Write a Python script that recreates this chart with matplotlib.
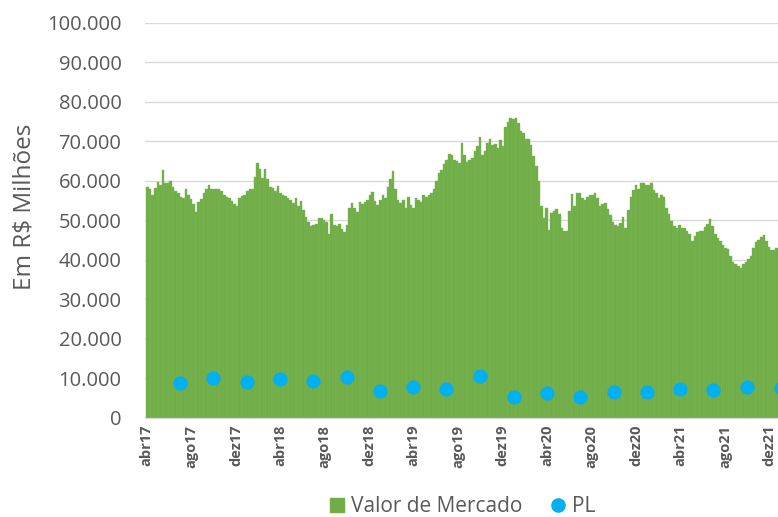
import matplotlib
matplotlib.use("Agg")
import matplotlib.pyplot as plt
from matplotlib.lines import Line2D
from matplotlib.ticker import FuncFormatter
import pandas as pd

# valor de mercado semanal (R$ milhões), a partir de 03/04/2017
valor_mercado = [
    58500, 58000, 56500, 58200, 59600, 59000, 62800, 59500, 59300, 60000,
    58500, 57300, 57000, 56000, 55500, 57800, 56500, 55300, 54000, 52000,
    54500, 55300, 56800, 58000, 59000, 57800, 57800, 58000, 57900, 57300,
    56500, 56000, 55500, 54900, 54000, 53500, 55500, 56200, 56500, 57500,
    58000,
    58000, 61000, 64500, 63000, 60800, 63000, 60500, 58500, 58200, 57500,
    58700, 57000, 56500, 56200, 55600, 55000, 54300, 55700, 53700, 54800,
    52500, 50800, 49500, 48600, 48800, 49000, 50500, 50500, 50000, 49500,
    46500, 51500, 48700, 48600, 49000, 47800, 47000, 48800, 53000, 54300,
    53200,
    52200, 54500, 54000, 54700, 55000, 56500, 57200, 54900, 53800, 55100,
    56500, 55500, 58500, 60500, 62500, 58000, 55000, 54300, 55000, 53000,
    55800, 53800, 53000, 55500, 55000, 54700, 56300, 55800, 56400, 56800,
    58000, 60000, 62000, 62800, 64200, 65300, 66800, 66500, 65300, 65000,
    64500, 69500,
    66500, 64800, 65200, 65800, 67500, 68800, 71000, 66500, 67500, 69500,
    70500, 69000, 69200, 68200, 70200, 68800, 73500, 74800, 76000, 75600,
    75800, 74500, 72500, 72000, 70600, 70500, 69000, 66200, 63800, 60000,
    53500, 50500, 53000, 47500, 51700, 52300, 52800, 51500, 48000, 47200,
    47300,
    52300, 56600, 53500, 57000, 56800, 55700, 55200, 56000, 56500, 56400,
    56900, 55500, 53500, 54000, 54300, 52800, 51200, 49500, 48800, 48500,
    49200, 50800, 48000, 52500, 55800, 57700, 58800, 57800, 59300, 59500,
    58900, 58900, 59300, 57600, 57000, 55600, 56400, 55900, 53200, 51500,
    49800,
    48500, 47900, 48900, 48000, 47900, 47300, 46400, 44700, 46000, 47100,
    47200, 47300, 48300, 49100, 50400, 48500, 46400, 45500, 44800, 43800,
    42900, 42700, 40900, 39500, 39000, 38400, 37800, 38800, 39500, 40100,
    41000, 43000, 44400, 45000, 45800, 46200, 44700, 43300, 42500, 42500,
    42900,
]
datas_mercado = pd.date_range("2017-04-03", periods=len(valor_mercado), freq="7D")

# patrimônio líquido trimestral (R$ milhões)
datas_pl = pd.date_range("2017-06-30", "2021-12-31", freq="QE")
pl = [8700, 10000, 9000, 9800, 9300, 10200, 6800, 7700, 7200, 10600,
      5300, 6200, 5300, 6400, 6400, 7200, 6900, 7800, 7400]

tick_datas = pd.date_range("2017-04-01", "2021-12-01", freq="4MS")
tick_rotulos = ["abr17", "ago17", "dez17", "abr18", "ago18", "dez18", "abr19",
                "ago19", "dez19", "abr20", "ago20", "dez20", "abr21", "ago21", "dez21"]

verde = "#70AD47"
azul = "#00B0F0"
cinza = "#595959"

plt.rcParams["font.family"] = ["Open Sans", "DejaVu Sans"]

fig = plt.figure(figsize=(7.78, 5.17), dpi=100)
# the axis runs past the right edge of the picture, as in the original
ax = fig.add_axes([145 / 778, 99.3 / 517, 655 / 778, 395 / 517])

ax.bar(datas_mercado, valor_mercado, width=7, color=verde, edgecolor="#7DB858",
       linewidth=0.3, zorder=2)
ax.plot(datas_pl, pl, "o", color=azul, ms=9.2, zorder=3, clip_on=False)

ax.set_ylim(0, 100000)
ax.set_yticks(range(0, 100001, 10000))
ax.yaxis.set_major_formatter(FuncFormatter(lambda v, p: f"{v:,.0f}".replace(",", ".")))
ax.set_xlim(pd.Timestamp("2017-03-27"), pd.Timestamp("2022-02-22"))
ax.set_xticks(tick_datas)
ax.set_xticklabels(tick_rotulos, rotation=90, fontweight="bold", fontsize=10.5,
                   color=cinza, ha="center", va="top")

ax.grid(axis="y", color="#D9D9D9", lw=1, zorder=0)
ax.set_axisbelow(True)
for s in ["top", "right", "left"]:
    ax.spines[s].set_visible(False)
ax.spines["bottom"].set_color("#D9D9D9")
ax.tick_params(axis="both", length=0)
ax.tick_params(axis="y", labelsize=14.5, labelcolor=cinza, pad=17)
ax.tick_params(axis="x", pad=5)

fig.text(25 / 778, 0.6, "Em R\\$ Milhões", rotation=90, ha="center", va="center",
         fontsize=17.5, color=cinza)

handles = [Line2D([], [], marker="s", color=verde, ls="none", ms=9.5),
           Line2D([], [], marker="o", color=azul, ls="none", ms=9.5)]
fig.legend(handles, ["Valor de Mercado", "PL"], loc="center", ncol=2,
           bbox_to_anchor=(462 / 778, 10 / 517), frameon=False, fontsize=15,
           labelcolor=cinza, handlelength=0.8, handletextpad=0.3, columnspacing=1.3)

fig.savefig("out.png", dpi=100)
